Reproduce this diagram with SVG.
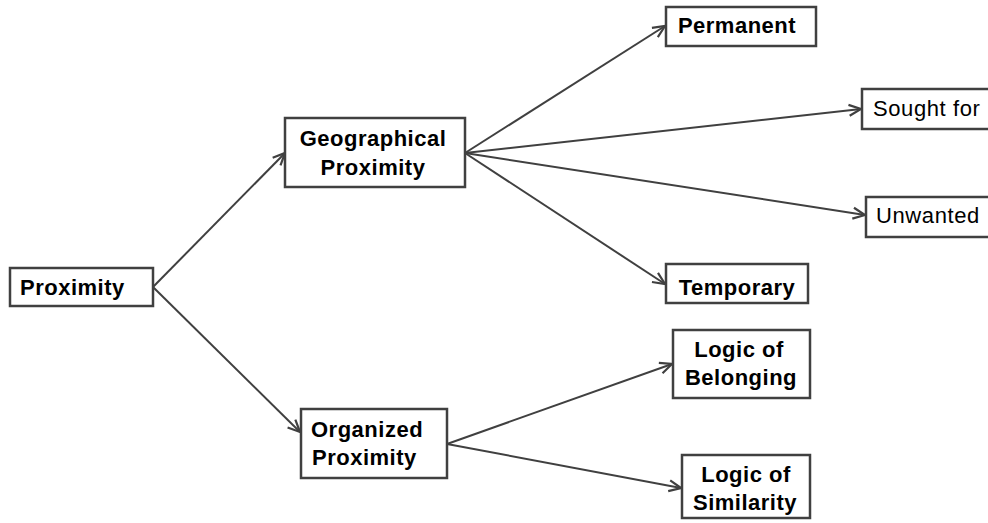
<svg xmlns="http://www.w3.org/2000/svg" width="988" height="523" viewBox="0 0 988 523">
<defs>
<marker id="arr" viewBox="0 0 14 14" refX="13" refY="7" markerWidth="14" markerHeight="14" markerUnits="userSpaceOnUse" orient="auto">
<path d="M1,1.5 L13,7 L1,12.5" fill="none" stroke="#404040" stroke-width="2.2"/>
</marker>
<style>
.box{fill:#fff;stroke:#404040;stroke-width:2.5}
.b{font-family:"Liberation Sans",Arial,sans-serif;font-size:22px;font-weight:bold;fill:#000;letter-spacing:0.5px}
.n{font-family:"Liberation Sans",Arial,sans-serif;font-size:22px;fill:#000;letter-spacing:0.6px}
.c{text-anchor:middle}
.con line{stroke:#404040;stroke-width:2;marker-end:url(#arr)}
</style>
</defs>
<rect width="988" height="523" fill="#fff"/>
<g class="con" id="connectors">
<line x1="153" y1="287" x2="285" y2="153"/>
<line x1="153" y1="287" x2="300" y2="432"/>
<line x1="465" y1="153" x2="665" y2="26"/>
<line x1="465" y1="153" x2="861" y2="109"/>
<line x1="465" y1="153" x2="865" y2="215"/>
<line x1="465" y1="153" x2="665" y2="284"/>
<line x1="447" y1="444" x2="672" y2="364"/>
<line x1="447" y1="444" x2="681" y2="488"/>
</g>
<g id="proximity"><rect class="box" x="10" y="268" width="143" height="38"/><text class="b" x="20" y="295">Proximity</text></g>
<g id="geo"><rect class="box" x="285" y="118" width="180" height="69"/><text class="b c" x="373" y="146">Geographical</text><text class="b c" x="373" y="175">Proximity</text></g>
<g id="org"><rect class="box" x="301" y="409" width="146" height="69"/><text class="b" x="311" y="437">Organized</text><text class="b" x="312" y="465">Proximity</text></g>
<g id="permanent"><rect class="box" x="666" y="7" width="150" height="39"/><text class="b c" x="737" y="33">Permanent</text></g>
<g id="sought"><rect class="box" x="862" y="89" width="130" height="40"/><text class="n" x="873" y="116">Sought for</text></g>
<g id="unwanted"><rect class="box" x="866" y="197" width="130" height="40"/><text class="n" x="876" y="223">Unwanted</text></g>
<g id="temporary"><rect class="box" x="666" y="264" width="142" height="39"/><text class="b c" x="737" y="295">Temporary</text></g>
<g id="belonging"><rect class="box" x="673" y="330" width="137" height="68"/><text class="b c" x="739" y="357">Logic of</text><text class="b c" x="741" y="385">Belonging</text></g>
<g id="similarity"><rect class="box" x="682" y="455" width="128" height="63"/><text class="b c" x="746" y="482">Logic of</text><text class="b c" x="745" y="510">Similarity</text></g>
</svg>
